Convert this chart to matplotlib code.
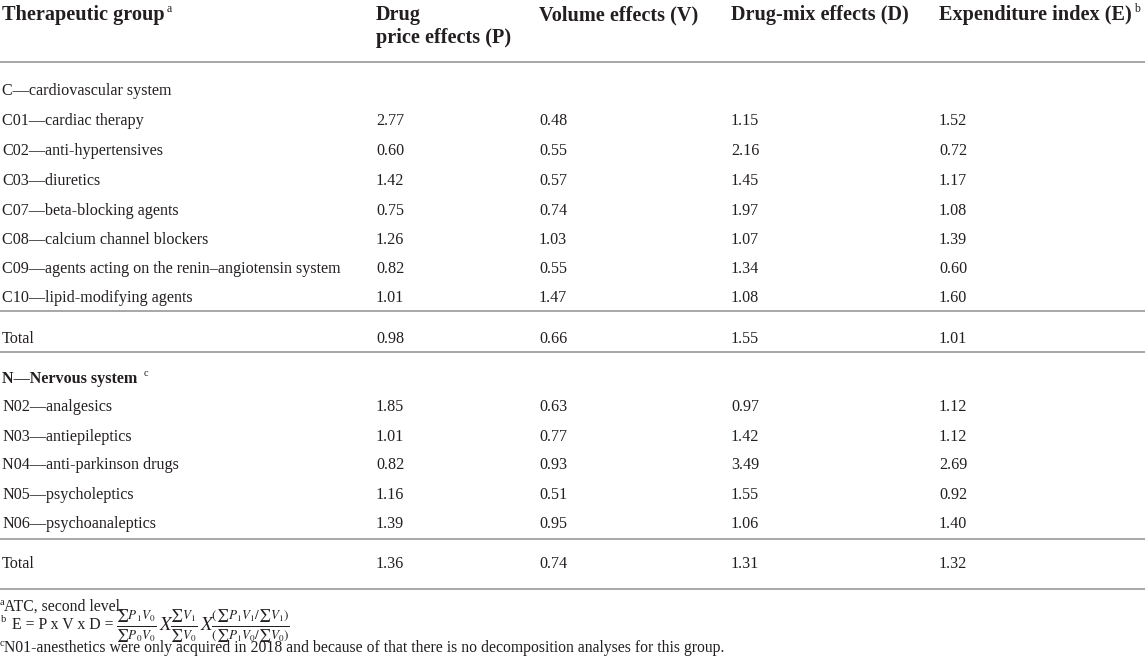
import matplotlib
matplotlib.use('Agg')
import matplotlib.pyplot as plt
from matplotlib.lines import Line2D

# ---------------- data ----------------
headers = ["Therapeutic group", "Drug\nprice effects (P)", "Volume effects (V)",
           "Drug-mix effects (D)", "Expenditure index (E)"]
header_sups = ["a", "", "", "", "b"]

c_section = "C—cardiovascular system"
c_groups = ["C01—cardiac therapy", "C02—anti-hypertensives", "C03—diuretics",
            "C07—beta-blocking agents", "C08—calcium channel blockers",
            "C09—agents acting on the renin–angiotensin system",
            "C10—lipid-modifying agents"]
c_P = [2.77, 0.60, 1.42, 0.75, 1.26, 0.82, 1.01]
c_V = [0.48, 0.55, 0.57, 0.74, 1.03, 0.55, 1.47]
c_D = [1.15, 2.16, 1.45, 1.97, 1.07, 1.34, 1.08]
c_E = [1.52, 0.72, 1.17, 1.08, 1.39, 0.60, 1.60]
c_total = [0.98, 0.66, 1.55, 1.01]

n_section = "N—Nervous system"
n_groups = ["N02—analgesics", "N03—antiepileptics", "N04—anti-parkinson drugs",
            "N05—psycholeptics", "N06—psychoanaleptics"]
n_P = [1.85, 1.01, 0.82, 1.16, 1.39]
n_V = [0.63, 0.77, 0.93, 0.51, 0.95]
n_D = [0.97, 1.42, 3.49, 1.55, 1.06]
n_E = [1.12, 1.12, 2.69, 0.92, 1.40]
n_total = [1.36, 0.74, 1.31, 1.32]

total_label = "Total"
foot_a = "ATC, second level."
foot_b_text = "E = P x V x D = "
foot_b_formula = (r"$\frac{\sum P_1V_0}{\sum P_0V_0}\,X\frac{\sum V_1}{\sum V_0}\,X"
                  r"\frac{(\sum P_1V_1/\sum V_1)}{(\sum P_1V_0/\sum V_0)}$")
foot_c = ("N01-anesthetics were only acquired in 2018 and because of that there is "
          "no decomposition analyses for this group.")

# ---------------- layout ----------------
W, H = 1145, 658
plt.rcParams['font.family'] = ['Liberation Serif', 'DejaVu Serif']
plt.rcParams['mathtext.fontset'] = 'stix'

fig = plt.figure(figsize=(W / 100, H / 100), dpi=100)
fig.patch.set_facecolor('white')
renderer = fig.canvas.get_renderer()

TXT = '#231f20'
LINE = '#a0a0a0'
col_x = [2, 376, 539, 731, 939]
BODY = 11.6
HEAD = 14.6
FOOT = 11.3


def put(x, y, s, size=BODY, weight='normal', va='baseline', **kw):
    return fig.text(x / W, 1 - y / H, s, fontsize=size, fontweight=weight,
                    color=TXT, va=va, ha='left', **kw)


def right_edge(t):
    bb = t.get_window_extent(renderer)
    return bb.x1


def hline(y):
    fig.add_artist(Line2D([0, 1], [1 - y / H, 1 - y / H], color=LINE, lw=1.3,
                          transform=fig.transFigure))


# header
for i, h in enumerate(headers):
    if "\n" in h:
        l1, l2 = h.split("\n")
        put(col_x[i], 20, l1, size=HEAD, weight='bold')
        put(col_x[i], 43, l2, size=HEAD, weight='bold')
    else:
        t = put(col_x[i], 20, h, size=HEAD, weight='bold')
        if header_sups[i]:
            put(right_edge(t) + 2, 12, header_sups[i], size=8.5)
hline(62)

# cardiovascular section
put(col_x[0], 95, c_section)
c_rows = [125, 155, 185, 215, 244, 273, 302]
for j, g in enumerate(c_groups):
    y = c_rows[j]
    put(col_x[0], y, g)
    for k, vals in enumerate([c_P, c_V, c_D, c_E]):
        put(col_x[k + 1], y, f"{vals[j]:.2f}")
hline(311)
put(col_x[0], 343, total_label)
for k, v in enumerate(c_total):
    put(col_x[k + 1], 343, f"{v:.2f}")
hline(352)

# nervous section
t = put(col_x[0], 383, n_section, weight='bold')
put(right_edge(t) + 6, 376, "c", size=7.5)
n_rows = [411, 441, 469, 499, 528]
for j, g in enumerate(n_groups):
    y = n_rows[j]
    put(col_x[0], y, g)
    for k, vals in enumerate([n_P, n_V, n_D, n_E]):
        put(col_x[k + 1], y, f"{vals[j]:.2f}")
hline(539)
put(col_x[0], 568, total_label)
for k, v in enumerate(n_total):
    put(col_x[k + 1], 568, f"{v:.2f}")
hline(589)

# footnotes
put(0, 605, "a", size=7.5)
put(4, 611, foot_a, size=FOOT)
put(1, 622, "b", size=7.5)
t = put(12, 629, foot_b_text, size=FOOT)
put(right_edge(t) - 1, 630, foot_b_formula, size=13.5)
put(0, 646, "c", size=7.5)
put(4, 652, foot_c, size=FOOT)

fig.savefig("out.png", dpi=100, facecolor='white')
